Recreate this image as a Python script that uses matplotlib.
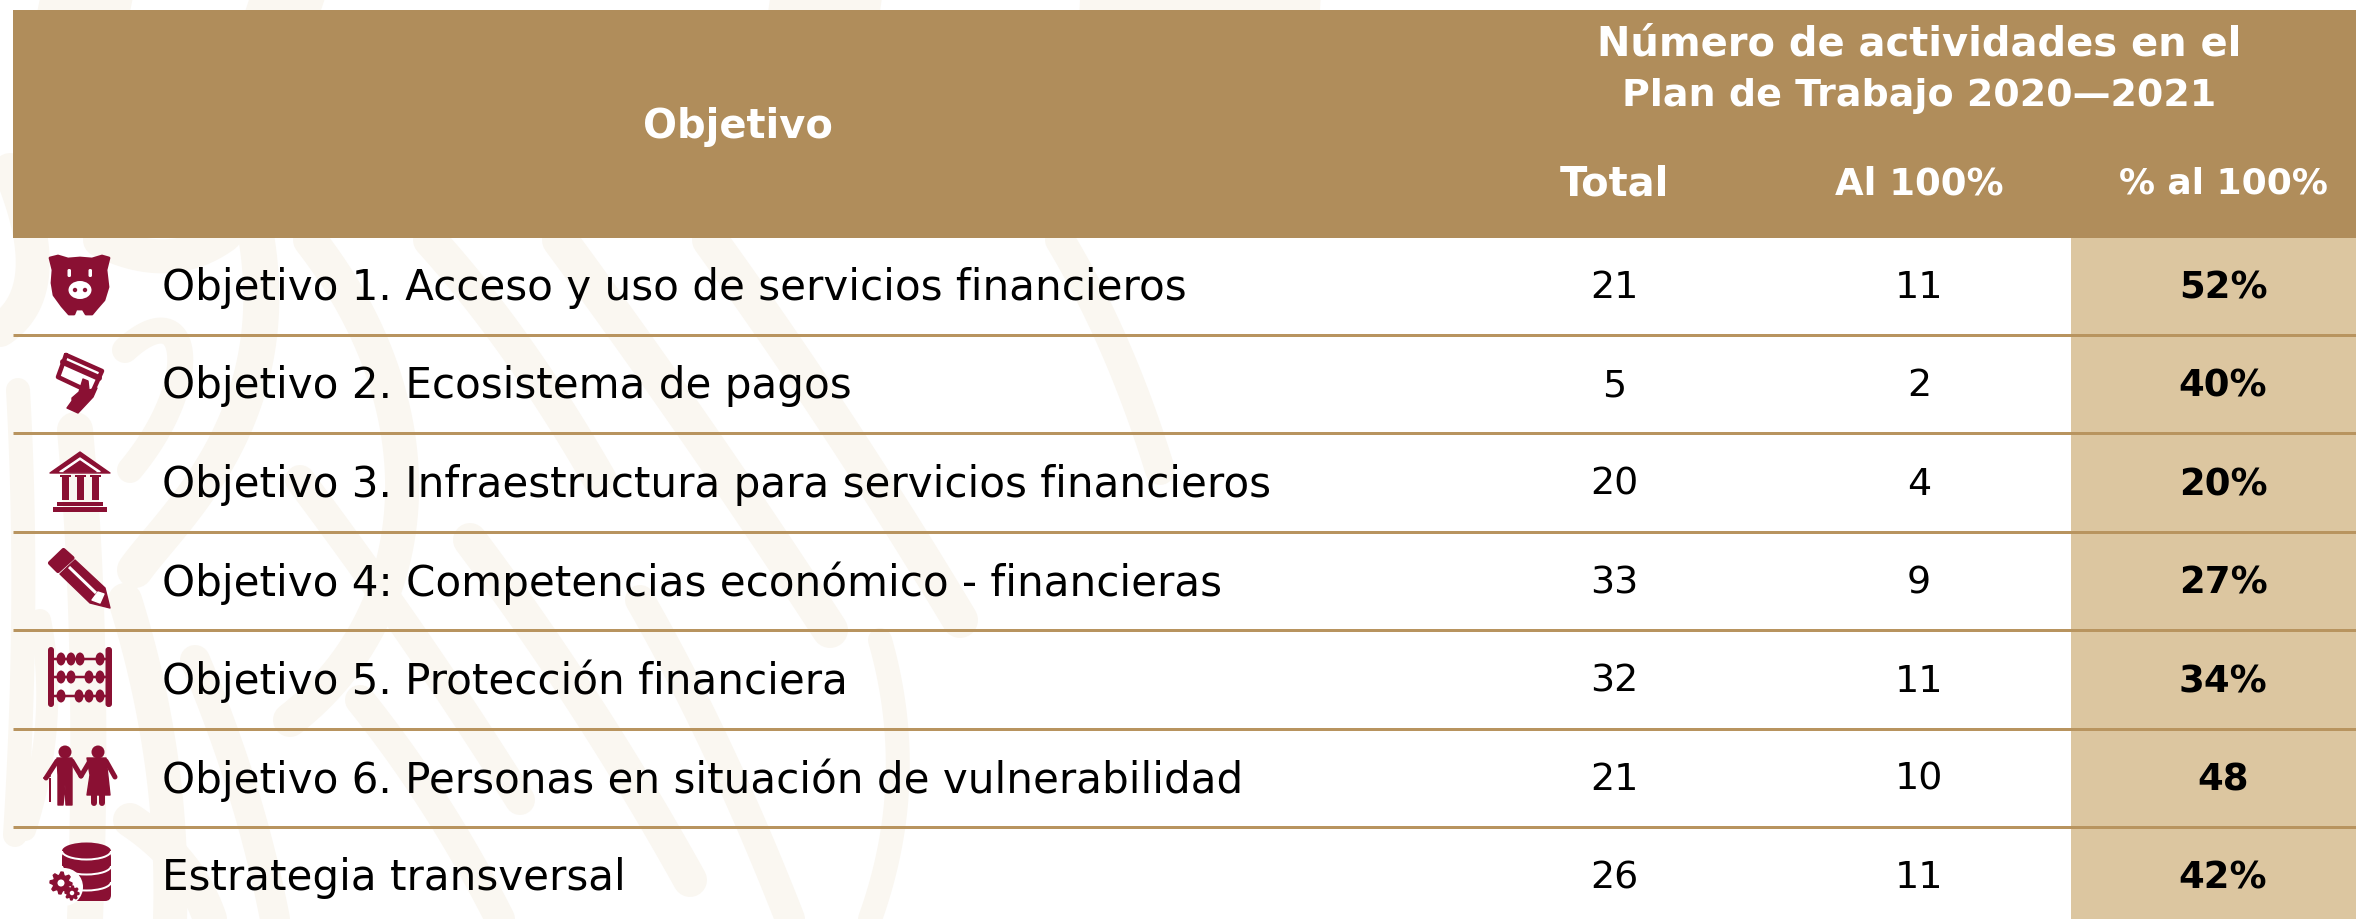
#!/usr/bin/env python3
import numpy as np
import matplotlib
matplotlib.use("Agg")
import matplotlib.pyplot as plt
from matplotlib.patches import Rectangle, Polygon, Ellipse, Circle, FancyBboxPatch, Arc

plt.rcParams['font.family'] = ['DejaVu Sans']

objetivos = ["Objetivo 1. Acceso y uso de servicios financieros",
             "Objetivo 2. Ecosistema de pagos",
             "Objetivo 3. Infraestructura para servicios financieros",
             "Objetivo 4: Competencias económico - financieras",
             "Objetivo 5. Protección financiera",
             "Objetivo 6. Personas en situación de vulnerabilidad",
             "Estrategia transversal"]
total = [21, 5, 20, 33, 32, 21, 26]
al_100 = [11, 2, 4, 9, 11, 10, 11]
pct_100 = ["52%", "40%", "20%", "27%", "34%", "48", "42%"]

HEADER = "#B08D5B"
TAN = "#DCC6A0"
LINE = "#B8945F"
MAROON = "#8A1033"
PALE = "#FAF7F1"
PX = 0.72  # px to points at dpi 100

W, H = 2356, 919
fig = plt.figure(figsize=(W / 100, H / 100), dpi=100)
ax = fig.add_axes([0, 0, 1, 1])
ax.set_xlim(0, W)
ax.set_ylim(H, 0)
ax.axis("off")


def bezier(pts, n=60):
    # de Casteljau, only for the soft background strokes
    pts = np.array(pts, dtype=float)
    t = np.linspace(0, 1, n)[:, None, None]
    p = np.repeat(pts[None, :, :], n, axis=0)
    while p.shape[1] > 1:
        p = (1 - t) * p[:, :-1] + t * p[:, 1:]
    return p[:, 0]


# pale watermark strokes behind the table
strokes = [
    ([(0, 330), (60, 290), (10, 170)], 34),
    ([(100, 240), (170, 275), (225, 235)], 34),
    ([(125, 350), (190, 290), (205, 380), (130, 470)], 26),
    ([(255, 230), (290, 420), (170, 520), (135, 570)], 36),
    ([(18, 390), (30, 600), (15, 835)], 24),
    ([(75, 430), (95, 650), (85, 919)], 36),
    ([(40, 620), (60, 720), (25, 830)], 22),
    ([(125, 600), (175, 760), (170, 919)], 34),
    ([(195, 660), (250, 790), (275, 919)], 30),
    ([(130, 820), (190, 860), (210, 919)], 34),
    ([(310, 240), (450, 420), (420, 620), (290, 720)], 34),
    ([(430, 240), (520, 340), (600, 480)], 34),
    ([(300, 480), (420, 640), (520, 800)], 30),
    ([(470, 540), (590, 700), (690, 880)], 34),
    ([(560, 240), (700, 430), (830, 630)], 36),
    ([(710, 240), (840, 420), (960, 620)], 36),
    ([(640, 600), (720, 740), (790, 919)], 30),
    ([(360, 700), (440, 800), (500, 919)], 30),
    ([(880, 640), (920, 780), (870, 919)], 24),
    ([(1060, 240), (1120, 340), (1160, 470)], 30),
]
for pts, w in strokes:
    b = bezier(pts)
    ax.plot(b[:, 0], b[:, 1], color=PALE, lw=w * PX, solid_capstyle="round", zorder=1)
for pts in [[(60, 0), (110, 10)], [(270, 0), (300, 10)], [(790, 0), (860, 10)], [(1100, 0), (1300, 10)]]:
    b = np.array(pts, dtype=float)
    ax.plot(b[:, 0], b[:, 1], color=PALE, lw=40 * PX, zorder=1)

# header band and highlighted column
ax.add_patch(Rectangle((13, 10), W - 13, 228, fc=HEADER, ec="none", zorder=2))
ax.add_patch(Rectangle((2071, 238), W - 2071, H - 238, fc=TAN, ec="none", zorder=2))

row_h = 98.4
row_y = [288 + i * row_h for i in range(len(objetivos))]
line_y = [335 + i * row_h for i in range(len(objetivos) - 1)]
for y in line_y:
    ax.plot([13, W], [y, y], color=LINE, lw=3 * PX, solid_capstyle="butt", zorder=3)

col_x = [1614, 1919, 2223]
body = 42 * PX
digits = 38 * PX
pct = 37 * PX
head = 40 * PX

ax.text(738, 127, "Objetivo", color="white", fontsize=head, fontweight="bold", ha="center", va="center", zorder=5)
ax.text(1919, 44, "Número de actividades en el", color="white", fontsize=head, fontweight="bold", ha="center", va="center", zorder=5)
ax.text(1919, 96, "Plan de Trabajo 2020—2021", color="white", fontsize=38 * PX, fontweight="bold", ha="center", va="center", zorder=5)
for x, t, s in zip(col_x, ["Total", "Al 100%", "% al 100%"], [40, 37, 36]):
    ax.text(x, 184, t, color="white", fontsize=s * PX, fontweight="bold", ha="center", va="center", zorder=5)

for y, name, t, a, p in zip(row_y, objetivos, total, al_100, pct_100):
    ax.text(162, y, name, color="black", fontsize=body, ha="left", va="center", zorder=5)
    ax.text(col_x[0], y, str(t), color="black", fontsize=digits, ha="center", va="center", zorder=5)
    ax.text(col_x[1], y, str(a), color="black", fontsize=digits, ha="center", va="center", zorder=5)
    ax.text(col_x[2], y, p, color="black", fontsize=pct, fontweight="bold", ha="center", va="center", zorder=5)


def poly(pts, fc=MAROON, lw=1):
    ax.add_patch(Polygon(pts, closed=True, fc=fc, ec=fc, lw=lw, joinstyle="round", zorder=4))

def line(pts, px, color=MAROON, cap="round"):
    pts = np.array(pts, dtype=float)
    ax.plot(pts[:, 0], pts[:, 1], color=color, lw=px * PX, solid_capstyle=cap, solid_joinstyle="round", zorder=4)

def rbox(x, y, w, h, fc=MAROON, r=2):
    ax.add_patch(FancyBboxPatch((x, y), w, h, boxstyle=f"round,pad=0,rounding_size={r}", fc=fc, ec="none", zorder=4))

def gear(cx, cy, r, n=8):
    a = np.linspace(0, 2 * np.pi, n * 4, endpoint=False)
    rad = np.where(np.arange(n * 4) % 4 < 2, r, r * 0.72)
    poly(np.c_[cx + rad * np.cos(a), cy + rad * np.sin(a)])
    ax.add_patch(Circle((cx, cy), r * 0.32, fc="white", ec="none", zorder=4))

# piggy bank
poly([(50, 258), (58, 256), (68, 259), (80, 258), (92, 259), (102, 256), (109, 258), (106, 270), (108, 287),
      (104, 300), (97, 308), (92, 314), (86, 314), (83, 309), (76, 309), (74, 314), (69, 314), (62, 306),
      (54, 295), (52, 283), (53, 270)], lw=2)
rbox(67.5, 269, 3.5, 8, fc="white", r=1.5)
rbox(88.5, 269, 3.5, 8, fc="white", r=1.5)
ax.add_patch(Ellipse((80, 290), 23, 18, fc="white", ec="none", zorder=4))
ax.add_patch(Circle((75, 290), 2.2, fc=MAROON, ec="none", zorder=4))
ax.add_patch(Circle((85, 290), 2.2, fc=MAROON, ec="none", zorder=4))

# card and hand
line([(66, 355), (102, 371), (92, 393), (58, 377), (66, 355)], 4.5)
line([(63, 362), (99, 378)], 6)
poly([(67, 408), (78, 413), (93, 397), (97, 388), (89, 390), (88, 381), (83, 379), (79, 392), (72, 398), (72, 401)])

# bank
poly([(80, 452), (110, 473), (50, 473)])
poly([(80, 458), (100, 471.5), (60, 471.5)], fc="white")
poly([(80, 461), (96, 472), (64, 472)])
for x in [65, 80, 95]:
    ax.add_patch(Rectangle((x - 3.5, 475), 7, 25, fc=MAROON, ec="none", zorder=4))
    ax.add_patch(Rectangle((x - 5.5, 475), 11, 2, fc=MAROON, ec="none", zorder=4))
ax.add_patch(Rectangle((57, 502), 46, 3.5, fc=MAROON, ec="none", zorder=4))
ax.add_patch(Rectangle((53, 507), 54, 5, fc=MAROON, ec="none", zorder=4))

# pencil
poly([(63.5, 550), (72.5, 558), (58, 571), (50, 563)], lw=3)
poly([(75, 560), (105, 588), (110, 608), (90, 603), (60, 574)], lw=1)
line([(69, 567), (96, 593)], 3, color="white", cap="butt")
poly([(98, 592), (104, 594), (100, 603), (92, 600)], fc="white")

# abacus
rbox(48, 647, 6, 60, r=3)
rbox(105.5, 647, 6.5, 60, r=3)
for y, beads in zip([659, 677, 696], [[61, 71, 80, 100], [61, 71, 89, 100], [61, 79, 89, 100]]):
    line([(52, y), (108, y)], 2.5, cap="butt")
    for x in beads:
        ax.add_patch(Ellipse((x, y), 9, 13, fc=MAROON, ec="none", zorder=4))

# couple
ax.add_patch(Circle((65, 752), 6.5, fc=MAROON, ec="none", zorder=4))
ax.add_patch(Circle((98, 752), 6.5, fc=MAROON, ec="none", zorder=4))
poly([(57, 758), (72, 758), (72, 782), (72, 805), (66, 805), (65, 785), (63, 805), (58, 805), (58, 775)])
line([(57, 761), (46, 778)], 5)
line([(72, 761), (81, 776)], 5)
line([(50, 778), (50, 802)], 2, cap="butt")
line([(44, 778), (50, 776)], 2)
poly([(87, 758), (106, 758), (110, 795), (87, 795), (90, 775)])
line([(90, 761), (81, 776)], 5)
line([(106, 761), (115, 777)], 5)
line([(93.5, 795), (93.5, 803)], 6)
line([(102, 795), (102, 803)], 6)

# database with gears
rbox(62, 851, 49, 50, r=6)
ax.add_patch(Ellipse((86.5, 851), 49, 17, fc=MAROON, ec="none", zorder=4))
for y in [851, 866, 882]:
    ax.add_patch(Arc((86.5, y), 49, 17, theta1=0, theta2=180, ec="white", lw=2 * PX, zorder=4))
ax.add_patch(Circle((64, 887), 19, fc="white", ec="none", zorder=4))
gear(61, 883, 11)
gear(72, 893, 7)

fig.savefig("out.png", dpi=100)
